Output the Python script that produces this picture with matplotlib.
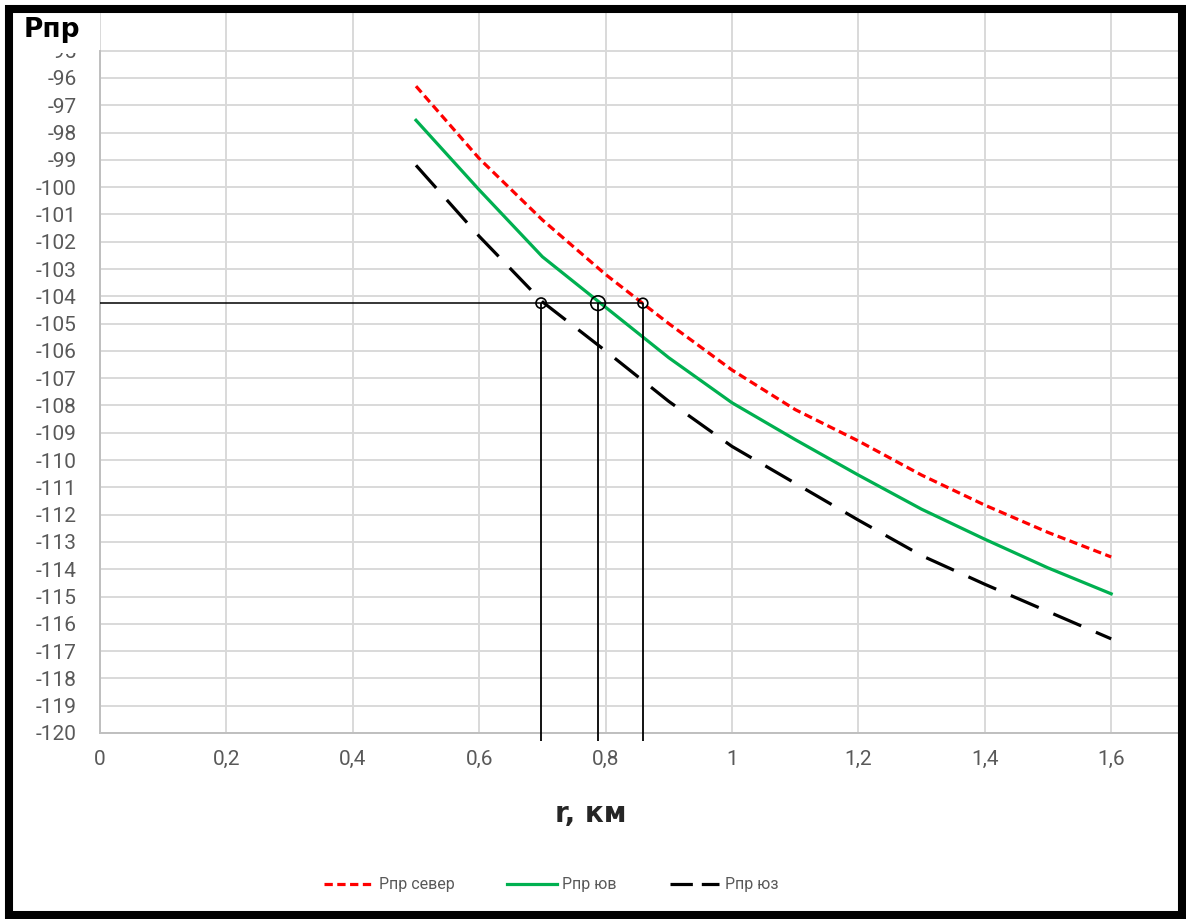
import matplotlib
matplotlib.use("Agg")
import matplotlib.pyplot as plt
from matplotlib.patches import Rectangle

# distance, km
r_km = [0.5, 0.6, 0.7, 0.8, 0.9, 1.0, 1.1, 1.2, 1.3, 1.4, 1.5, 1.6]
# received power levels
p_sever = [-96.3, -98.95, -101.2, -103.2, -105.0, -106.7, -108.15, -109.3, -110.55, -111.65, -112.65, -113.55]
p_yuv = [-97.55, -100.1, -102.55, -104.4, -106.25, -107.9, -109.25, -110.55, -111.8, -112.9, -113.95, -114.9]
p_yuz = [-99.2, -101.8, -104.2, -106.0, -107.85, -109.5, -110.85, -112.2, -113.5, -114.55, -115.55, -116.55]

series_labels = ["Рпр север", "Рпр юв", "Рпр юз"]

# threshold level and where each curve crosses it
threshold = -104.25
cross_r = [0.698, 0.788, 0.859]

x_ticks = [0, 0.2, 0.4, 0.6, 0.8, 1.0, 1.2, 1.4, 1.6]
x_ticklabels = ["0", "0,2", "0,4", "0,6", "0,8", "1", "1,2", "1,4", "1,6"]
y_ticks = list(range(-120, -94))

W, H = 1186, 919
fig = plt.figure(figsize=(W / 100, H / 100), dpi=100)
ax = fig.add_axes([100 / W, (H - 733) / H, (1178 - 100) / W, (733 - 13) / H])

tick_font = ["Roboto", "DejaVu Sans"]
grey_txt = "#595959"
grid_col = "#d9d9d9"

ax.plot(r_km, p_sever, color="#ff0000", lw=2.3, dashes=(2.6, 1.4), label=series_labels[0])
ax.plot(r_km, p_yuv, color="#00b050", lw=2.3, label=series_labels[1])
ax.plot(r_km, p_yuz, color="black", lw=2.3, dashes=(9.5, 5.0), label=series_labels[2])

# threshold construction lines
ax.hlines(threshold, 0, max(cross_r), color="black", lw=1.1, zorder=4)
ax.vlines(cross_r, -120.3, threshold, color="black", lw=1.3, zorder=4, clip_on=False)
ax.scatter(cross_r, [threshold] * len(cross_r), s=[55, 110, 50], facecolors="none",
           edgecolors="black", linewidths=1.2, zorder=5)

ax.set_xlim(0, (1178 - 100) / 632)
ax.set_ylim(-120, -96 + (78 - 13) / 27.3)
ax.set_xticks(x_ticks)
ax.set_xticklabels(x_ticklabels)
ax.set_yticks(y_ticks)
ax.set_yticklabels([str(v) for v in y_ticks])
ax.tick_params(length=0, colors=grey_txt, labelsize=15)
ax.tick_params(axis="y", pad=17)
ax.tick_params(axis="x", pad=12)
for lab in ax.get_xticklabels() + ax.get_yticklabels():
    lab.set_family(tick_font)

ax.grid(True, color=grid_col, lw=1.4)
ax.set_axisbelow(True)
for s in ["top", "right"]:
    ax.spines[s].set_visible(False)
ax.spines["left"].set_color("#bfbfbf")
ax.spines["bottom"].set_color("#bfbfbf")
ax.spines["left"].set_linewidth(1.4)
ax.spines["bottom"].set_linewidth(1.4)
ax.spines["left"].set_bounds(-120, -95)

# white box hiding the top tick label, like the original
fig.add_artist(Rectangle((14 / W, (H - 53) / H), 85 / W, 40 / H, transform=fig.transFigure,
                         facecolor="white", edgecolor="none", zorder=2))
fig.text(24 / W, (H - 37) / H, "Рпр", fontsize=19, fontweight="bold", family="DejaVu Sans",
         ha="left", va="baseline", zorder=3)
fig.text(591 / W, (H - 814) / H, "r, км", fontsize=20, fontweight="bold", family="DejaVu Sans",
         ha="center", va="center", color="#262626")

leg = fig.legend(loc="center", bbox_to_anchor=(551 / W, (H - 885) / H), ncol=3, frameon=False,
                 handlelength=3.1, handletextpad=0.35, columnspacing=3.3,
                 prop={"family": tick_font, "size": 11.5})
for t in leg.get_texts():
    t.set_color(grey_txt)
# two even dashes in the legend sample, as Excel draws it
leg.get_lines()[2].set_dashes((7.0, 2.8))

# outer black frame
fig.add_artist(Rectangle((9 / W, 4 / H), (1182 - 9) / W, (915 - 9) / H, transform=fig.transFigure,
                         fill=False, edgecolor="black", lw=5.8, zorder=10))

fig.savefig("out.png", dpi=100)
